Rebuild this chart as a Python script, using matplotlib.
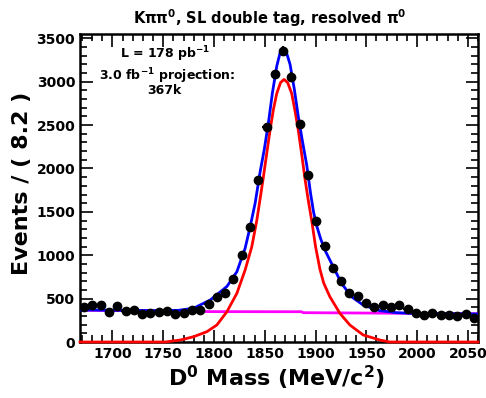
import numpy as np
import matplotlib
matplotlib.use("Agg")
import matplotlib.pyplot as plt
from matplotlib.ticker import MultipleLocator

plt.rcParams['font.family'] = ['DejaVu Sans']
plt.rcParams['font.weight'] = 'bold'
plt.rcParams['mathtext.default'] = 'bf'

# 数据：直方图 (48 bins, 1668-2060 MeV)
x_lo, x_hi, n_bins = 1668, 2060, 48
counts = [400, 423, 423, 349, 415, 353, 369, 323, 330, 346, 361, 323, 330, 369,
          369, 434, 515, 561, 730, 1008, 1325, 1870, 2480, 3084, 3356, 3056,
          2508, 1920, 1398, 1106, 856, 706, 561, 534, 446, 407, 426, 407, 423,
          384, 338, 307, 338, 311, 311, 300, 318, 280]

# 拟合曲线（从图中读取的点）
sig_x = [1668, 1752, 1766.8, 1779.9, 1793, 1802.8, 1812.7, 1822.5, 1830.6, 1837.2,
         1842.1, 1845.4, 1848.6, 1852, 1855.2, 1858.5, 1861.8, 1865.5, 1869,
         1872.5, 1876.5, 1880, 1883, 1886.5, 1889.6, 1893, 1896.2, 1900, 1904.3,
         1908, 1914.1, 1924, 1933.8, 1946.9, 1963.3, 1973, 2060]
sig_y = [0, 0, 23, 61, 119, 196, 349, 561, 829, 1098,
         1400, 1650, 1900, 2180, 2442, 2680, 2865, 2990, 3026,
         2990, 2865, 2650, 2442, 2150, 1880, 1620, 1400, 1100, 840,
         680, 522, 330, 196, 81, 23, 0, 0]

tot_x = [1668, 1700, 1740, 1765, 1780, 1796.3, 1812.7, 1822.5, 1830.6, 1835.6,
         1840.5, 1845.4, 1849.5, 1853.5, 1857.5, 1861.8, 1865, 1868.3, 1871.5,
         1874.9, 1879, 1883, 1887, 1891.3, 1895, 1898, 1901.1, 1905, 1909.2,
         1917.4, 1925.6, 1935.4, 1946.9, 1963.3, 1979.7, 1996, 2060]
tot_y = [370, 366, 362, 365, 390, 484, 640, 810, 1079, 1328,
         1600, 1960, 2220, 2520, 2870, 3180, 3330, 3370, 3330,
         3200, 2920, 2600, 2320, 2040, 1720, 1500, 1340, 1190, 1060,
         867, 676, 522, 426, 361, 338, 330, 323]

bkg_x = [1668, 1800, 1886, 1888, 2060]
bkg_y = [366, 350, 349, 338, 326]

edges = np.linspace(x_lo, x_hi, n_bins + 1)
centers = 0.5 * (edges[:-1] + edges[1:])
counts = np.array(counts)

fig = plt.figure(figsize=(4.86, 3.98), dpi=100)
ax = fig.add_axes([80 / 486, 1 - 342 / 398, 398 / 486, 308 / 398])

ax.plot(bkg_x, bkg_y, color='#ff00ff', lw=2, zorder=2)
ax.plot(sig_x, sig_y, color='#ff0000', lw=2, zorder=3, clip_on=False)
ax.plot(tot_x, tot_y, color='#0000ff', lw=2, zorder=4)
ax.errorbar(centers, counts, yerr=np.sqrt(counts), xerr=0.5 * (edges[1] - edges[0]),
            fmt='o', color='black', ms=6, elinewidth=1.6, capsize=0, zorder=5)

ax.set_xlim(x_lo, x_hi)
ax.set_ylim(0, 3550)
ax.xaxis.set_major_locator(MultipleLocator(50))
ax.xaxis.set_minor_locator(MultipleLocator(10))
ax.yaxis.set_major_locator(MultipleLocator(500))
ax.yaxis.set_minor_locator(MultipleLocator(100))
ax.tick_params(which='both', direction='in', top=True, right=True, width=1.2,
               labelsize=10)
ax.tick_params(which='major', length=9)
ax.tick_params(which='minor', length=5)
for lab in ax.get_xticklabels() + ax.get_yticklabels():
    lab.set_fontweight('bold')
for s in ax.spines.values():
    s.set_linewidth(1.8)

fig.text(270 / 486, 1 - 18 / 398, r"K$\pi\pi^{0}$, SL double tag, resolved $\pi^{0}$",
         ha='center', va='center', fontsize=10.5, fontweight='bold')
fig.text(277 / 486, 1 - 378 / 398, r"D$^{0}$ Mass (MeV/c$^{2}$)",
         ha='center', va='center', fontsize=16, fontweight='bold')
fig.text(22 / 486, 1 - 183 / 398, "Events / ( 8.2 )", rotation=90,
         ha='center', va='center', fontsize=16, fontweight='bold')

fig.text(165 / 486, 1 - 54 / 398, r"L = 178 pb$^{-1}$", ha='center', va='center',
         fontsize=9, fontweight='bold')
fig.text(167 / 486, 1 - 76 / 398, r"3.0 fb$^{-1}$ projection:", ha='center', va='center',
         fontsize=9, fontweight='bold')
fig.text(164 / 486, 1 - 91 / 398, "367k", ha='center', va='center',
         fontsize=9, fontweight='bold')

fig.savefig("out.png", dpi=100)
